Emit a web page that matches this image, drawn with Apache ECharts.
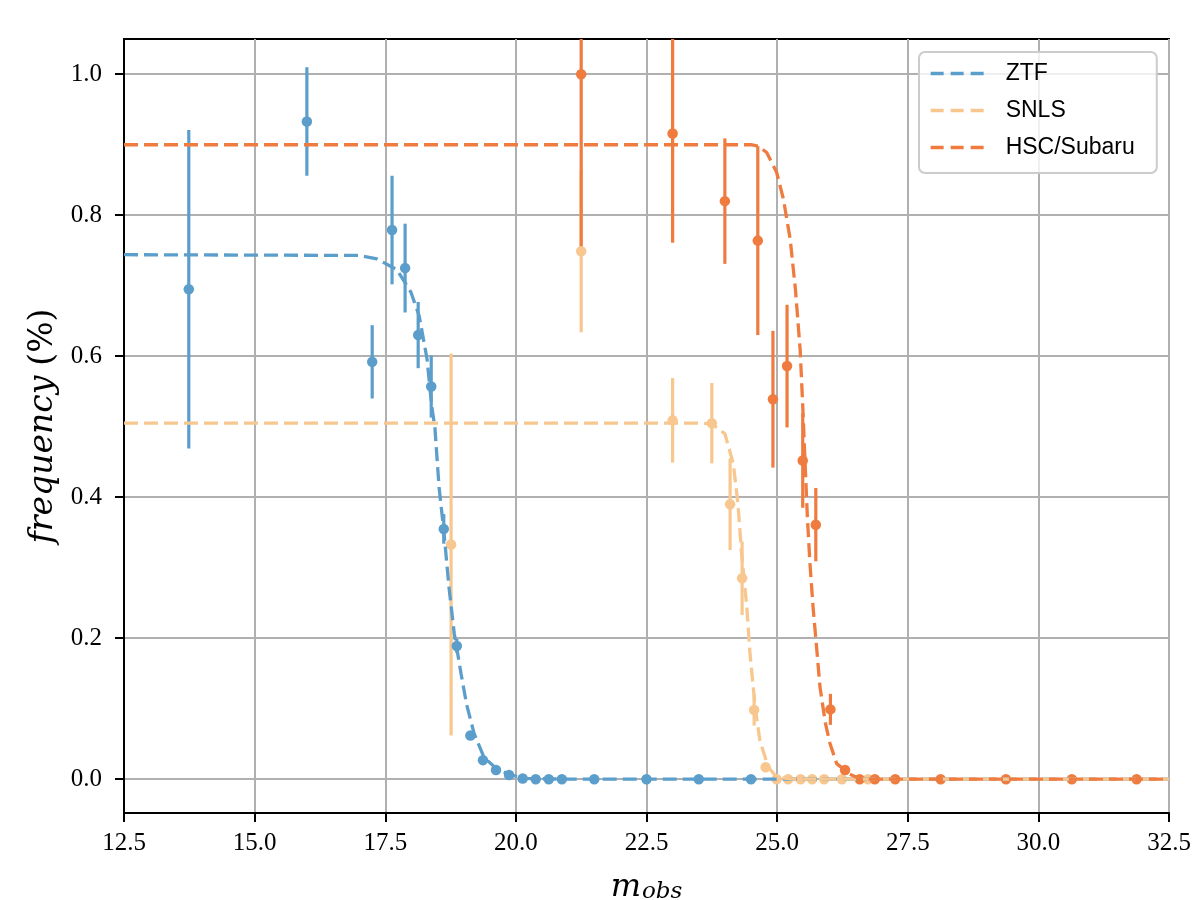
<!DOCTYPE html>
<html><head><meta charset="utf-8">
<script src="https://cdn.jsdelivr.net/npm/echarts@6/dist/echarts.min.js"></script>
<style>html,body{margin:0;padding:0;background:#fff}#c{width:1197px;height:900px}</style>
</head><body><div id="c"></div><script>
// ---- data ----
const xTickStep = 2.5;
const yTickValues = [0.0, 0.2, 0.4, 0.6, 0.8, 1.0];
const seriesNames = ['ZTF', 'SNLS', 'HSC/Subaru'];

const ztfMag  = [13.74, 16.0, 17.25, 17.63, 17.88, 18.13, 18.38, 18.62, 18.87, 19.13, 19.37, 19.62, 19.87, 20.13, 20.38, 20.63, 20.88, 21.5, 22.5, 23.5, 24.5];
const ztfFreq = [0.695, 0.933, 0.592, 0.779, 0.725, 0.630, 0.557, 0.355, 0.189, 0.062, 0.027, 0.013, 0.006, 0.001, 0.0, 0.0, 0.0, 0.0, 0.0, 0.0, 0.0];
const ztfErr  = [0.226, 0.077, 0.052, 0.077, 0.063, 0.047, 0.044, 0.021, 0.010, 0.006, 0.003, 0.002, 0, 0, 0, 0, 0, 0, 0, 0, 0];

const snlsMag  = [18.76, 21.25, 23.0, 23.75, 24.1, 24.33, 24.56, 24.78, 24.99, 25.21, 25.45, 25.67, 25.9, 26.24, 26.74];
const snlsFreq = [0.333, 0.749, 0.509, 0.505, 0.390, 0.285, 0.098, 0.017, 0, 0, 0, 0, 0, 0, 0];
const snlsErr  = [0.271, 0.115, 0.060, 0.057, 0.065, 0.052, 0.022, 0.005, 0, 0, 0, 0, 0, 0, 0];

const hscMag  = [21.25, 23.0, 24.0, 24.63, 24.92, 25.19, 25.49, 25.74, 26.02, 26.3, 26.58, 26.87, 27.26, 28.13, 29.38, 30.64, 31.88];
const hscFreq = [1.0, 0.916, 0.82, 0.764, 0.539, 0.586, 0.452, 0.361, 0.099, 0.013, 0, 0, 0, 0, 0, 0, 0];
const hscErr  = [0.25, 0.155, 0.089, 0.134, 0.097, 0.087, 0.067, 0.052, 0.022, 0.004, 0, 0, 0, 0, 0, 0, 0];

// fitted curves
const ztfFitMag  = [12.5, 17.0, 17.34, 17.72, 17.99, 18.15, 18.30, 18.39, 18.45, 18.53, 18.62, 18.72, 18.82, 18.95, 19.06, 19.20, 19.39, 19.64, 19.91, 20.16, 21.0, 32.5];
const ztfFitFreq = [0.744, 0.743, 0.738, 0.723, 0.691, 0.657, 0.596, 0.529, 0.499, 0.414, 0.353, 0.272, 0.207, 0.150, 0.105, 0.065, 0.031, 0.014, 0.006, 0.001, 0.0, 0.0];

const snlsFitMag  = [12.5, 23.5, 23.75, 24.0, 24.16, 24.25, 24.32, 24.42, 24.48, 24.58, 24.67, 24.83, 24.99, 25.3, 32.5];
const snlsFitFreq = [0.505, 0.505, 0.504, 0.490, 0.448, 0.391, 0.320, 0.244, 0.179, 0.102, 0.055, 0.017, 0.003, 0.0, 0.0];

const hscFitMag  = [12.5, 24.5, 24.64, 24.80, 24.99, 25.12, 25.25, 25.35, 25.44, 25.49, 25.54, 25.58, 25.63, 25.69, 25.76, 25.82, 25.92, 26.01, 26.14, 26.39, 26.6, 32.5];
const hscFitFreq = [0.900, 0.900, 0.898, 0.889, 0.861, 0.823, 0.766, 0.695, 0.610, 0.530, 0.440, 0.370, 0.304, 0.242, 0.183, 0.131, 0.081, 0.051, 0.022, 0.007, 0.0, 0.0];

// ---- styling ----
const colors = ['#5b9ecb', '#f8c78f', '#ef7b3e'];
const serif = 'Liberation Serif';
const mathFont = 'DejaVu Serif';

function pairs(xs, ys) { return xs.map((x, i) => [x, ys[i]]); }
function bars(xs, ys, es) { return xs.map((x, i) => [x, ys[i] - es[i], ys[i] + es[i]]); }
function errRender(color) {
  return function (params, api) {
    const x = api.value(0), lo = api.value(1), hi = api.value(2);
    const p1 = api.coord([x, lo]), p2 = api.coord([x, hi]);
    return { type: 'line', shape: { x1: p1[0], y1: p1[1], x2: p2[0], y2: p2[1] },
             style: { stroke: color, lineWidth: 3.2 } };
  };
}
function group(name, color, mags, freqs, errs, fitMags, fitFreqs) {
  return [
    { name: name + ' err', type: 'custom', renderItem: errRender(color), clip: true,
      encode: { x: 0, y: [1, 2] }, data: bars(mags, freqs, errs), silent: true },
    { name: name + ' pts', type: 'scatter', symbol: 'circle', symbolSize: 10.5, clip: true,
      itemStyle: { color: color, opacity: 1 }, data: pairs(mags, freqs) },
    { name: name, type: 'line', symbol: 'none', smooth: false, clip: true,
      lineStyle: { color: color, width: 3.3, type: [14, 6] }, itemStyle: { color: color },
      data: pairs(fitMags, fitFreqs) }
  ];
}

const chart = echarts.init(document.getElementById('c'), null, { renderer: 'canvas' });
chart.setOption({
  animation: false,
  backgroundColor: '#fff',
  grid: { left: 124, right: 28, top: 39, bottom: 87, outerBoundsMode: 'none', containLabel: false,
          show: true, borderColor: '#000', borderWidth: 2, backgroundColor: 'transparent' },
  legend: {
    data: seriesNames, orient: 'vertical', left: 919, top: 52,
    padding: [10, 22, 14, 10], itemGap: 14, itemWidth: 53, itemHeight: 14,
    backgroundColor: 'rgba(255,255,255,0.8)', borderColor: '#cccccc', borderWidth: 2, borderRadius: 6,
    itemStyle: { opacity: 0 },
    lineStyle: { width: 3.3, type: [13, 7] },
    textStyle: { fontFamily: 'Liberation Sans', fontSize: 23, color: '#000', padding: [0, 0, 0, 17] }
  },
  xAxis: {
    type: 'value', min: 12.5, max: 32.5, interval: xTickStep,
    name: '{m|m}{s|obs}', nameLocation: 'middle', nameGap: 59,
    nameTextStyle: { rich: {
      m: { fontFamily: mathFont, fontStyle: 'italic', fontSize: 32, lineHeight: 32, verticalAlign: 'top', color: '#000' },
      s: { fontFamily: mathFont, fontStyle: 'italic', fontSize: 23, lineHeight: 23, verticalAlign: 'bottom', padding: [20, 0, 0, 1], color: '#000' }
    } },
    axisLine: { show: true, onZero: false, lineStyle: { color: '#000', width: 2 } },
    axisTick: { show: true, inside: false, length: 9, lineStyle: { color: '#000', width: 2 } },
    axisLabel: { margin: 18, fontFamily: serif, fontSize: 25, color: '#000', formatter: v => v.toFixed(1) },
    splitLine: { show: true, lineStyle: { color: '#b0b0b0', width: 2 } }
  },
  yAxis: {
    type: 'value', min: -0.048, max: 1.05,
    name: '{i|frequency}{u|(%)}', nameLocation: 'middle', nameRotate: 90, nameGap: 62,
    nameTextStyle: { rich: {
      i: { fontFamily: mathFont, fontStyle: 'italic', fontSize: 33, color: '#000' },
      u: { fontFamily: mathFont, fontSize: 33, color: '#000', padding: [0, 0, 0, 10] }
    } },
    axisLine: { show: true, onZero: false, lineStyle: { color: '#000', width: 2 } },
    axisTick: { show: true, inside: false, length: 9, customValues: yTickValues, lineStyle: { color: '#000', width: 2 } },
    axisLabel: { margin: 22, fontFamily: serif, fontSize: 25, color: '#000', customValues: yTickValues, formatter: v => v.toFixed(1) },
    splitLine: { show: true, lineStyle: { color: '#b0b0b0', width: 2 } }
  },
  series: [].concat(
    group(seriesNames[0], colors[0], ztfMag, ztfFreq, ztfErr, ztfFitMag, ztfFitFreq),
    group(seriesNames[1], colors[1], snlsMag, snlsFreq, snlsErr, snlsFitMag, snlsFitFreq),
    group(seriesNames[2], colors[2], hscMag, hscFreq, hscErr, hscFitMag, hscFitFreq)
  )
});
</script></body></html>
